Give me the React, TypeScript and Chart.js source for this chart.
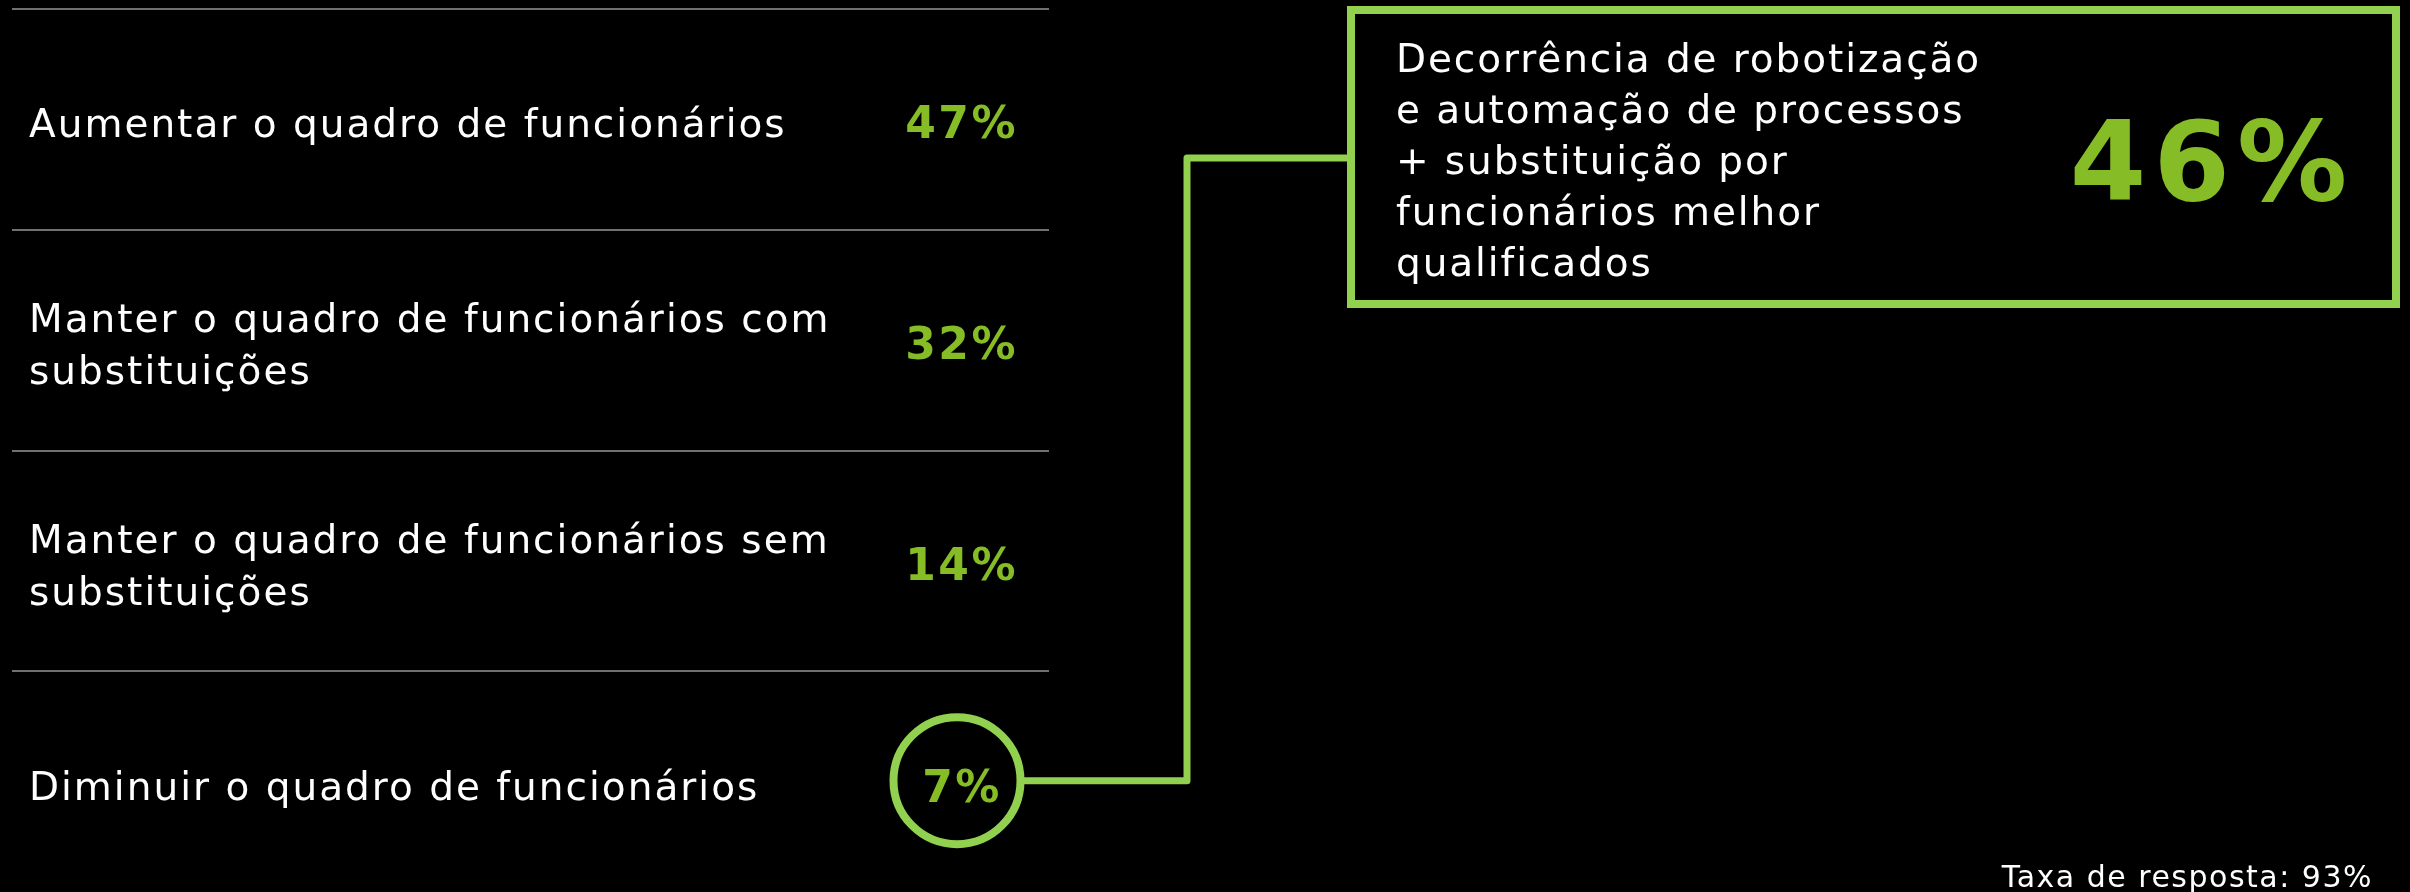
import React, { useEffect, useRef } from "react";
import { Chart, registerables } from "chart.js";

Chart.register(...registerables);

const categories: string[][] = [
  ["Aumentar o quadro de funcionários"],
  ["Manter o quadro de funcionários com", "substituições"],
  ["Manter o quadro de funcionários sem", "substituições"],
  ["Diminuir o quadro de funcionários"],
];
const values: number[] = [47, 32, 14, 7];
const highlightIndex = 3;

const detailLines: string[] = [
  "Decorrência de robotização",
  "e automação de processos",
  "+ substituição por",
  "funcionários melhor",
  "qualificados",
];
const detailValue = 46;
const responseRate = 93;

const W = 2410;
const H = 892;
const FONT = "'DejaVu Sans', Verdana, sans-serif";
const GREEN_TEXT = "#86bc25";
const GREEN_LINE = "#92d050";
const SEP = "#707070";

function setSpacing(ctx: any, px: number) {
  if ("letterSpacing" in ctx) ctx.letterSpacing = `${px}px`;
}

const infoPlugin = {
  id: "infoPlugin",
  beforeDraw(chart: any) {
    const ctx = chart.ctx;
    ctx.save();
    ctx.fillStyle = "#000";
    ctx.fillRect(0, 0, chart.width, chart.height);
    ctx.restore();
  },
  afterDraw(chart: any) {
    const ctx = chart.ctx;
    const yScale = chart.scales.y;
    const area = chart.chartArea;
    const n = chart.data.labels.length;
    const band = (area.bottom - area.top) / n;
    const vals = chart.data.datasets[0].data as number[];
    ctx.save();

    // separators
    ctx.strokeStyle = SEP;
    ctx.lineWidth = 2;
    for (let i = 0; i < n; i++) {
      const y = Math.round(yScale.getPixelForValue(i) - band / 2);
      ctx.beginPath();
      ctx.moveTo(area.left, y);
      ctx.lineTo(area.right, y);
      ctx.stroke();
    }

    // row labels and values
    for (let i = 0; i < n; i++) {
      const cy = yScale.getPixelForValue(i);
      const lines: string[] = chart.data.labels[i];
      ctx.fillStyle = "#fff";
      ctx.font = `39px ${FONT}`;
      setSpacing(ctx, 2);
      ctx.textAlign = "left";
      ctx.textBaseline = "alphabetic";
      lines.forEach((ln, j) => {
        const by = cy + 18 + (j - (lines.length - 1) / 2) * 51.5;
        ctx.fillText(ln, 29, by);
      });
      ctx.fillStyle = GREEN_TEXT;
      ctx.font = `bold 44px ${FONT}`;
      setSpacing(ctx, 2.5);
      if (i === highlightIndex) {
        ctx.textAlign = "center";
        ctx.fillText(`${vals[i]}%`, 962, cy + 20);
      } else {
        ctx.textAlign = "right";
        ctx.fillText(`${vals[i]}%`, 1018, cy + 19);
      }
    }

    // circle + connector
    const hy = yScale.getPixelForValue(highlightIndex) - 1;
    const cx = 957;
    const r = 63.5;
    ctx.strokeStyle = GREEN_LINE;
    ctx.lineWidth = 8;
    ctx.beginPath();
    ctx.arc(cx, hy, r, 0, Math.PI * 2);
    ctx.stroke();

    const boxL = 1351, boxT = 10, boxR = 2396, boxB = 304;
    ctx.lineWidth = 7;
    ctx.lineJoin = "round";
    ctx.beginPath();
    ctx.moveTo(cx + r + 3, hy);
    ctx.lineTo(1187, hy);
    ctx.lineTo(1187, 158);
    ctx.lineTo(boxL, 158);
    ctx.stroke();

    ctx.lineWidth = 8;
    ctx.lineJoin = "miter";
    ctx.strokeRect(boxL, boxT, boxR - boxL, boxB - boxT);

    // box text
    ctx.fillStyle = "#fff";
    ctx.font = `39px ${FONT}`;
    setSpacing(ctx, 1.9);
    ctx.textAlign = "left";
    detailLines.forEach((ln, j) => {
      ctx.fillText(ln, 1396, 72 + j * 51);
    });
    ctx.fillStyle = GREEN_TEXT;
    ctx.font = `bold 110px ${FONT}`;
    setSpacing(ctx, 7);
    ctx.textAlign = "center";
    ctx.fillText(`${detailValue}%`, 2212, 200);

    // footer
    ctx.fillStyle = "#fff";
    ctx.font = `30px ${FONT}`;
    setSpacing(ctx, 1.5);
    ctx.textAlign = "right";
    ctx.fillText(`Taxa de resposta: ${responseRate}%`, 2373, 887);

    ctx.restore();
  },
};

export default function App() {
  const ref = useRef<HTMLCanvasElement | null>(null);
  useEffect(() => {
    if (!ref.current) return;
    const chart = new Chart(ref.current, {
      type: "bar",
      data: {
        labels: categories as any,
        datasets: [
          {
            data: values,
            backgroundColor: "rgba(0,0,0,0)",
            borderWidth: 0,
          },
        ],
      },
      options: {
        indexAxis: "y",
        responsive: false,
        animation: false,
        events: [],
        layout: { padding: { left: 12, right: W - 1049, top: 9, bottom: 0 } },
        plugins: { legend: { display: false }, tooltip: { enabled: false } },
        scales: {
          x: { display: false, min: 0, max: 100 },
          y: { type: "category", display: false, offset: true },
        },
      },
      plugins: [infoPlugin],
    });
    return () => chart.destroy();
  }, []);
  return (
    <div style={{ position: "fixed", left: 0, top: 0, width: W, height: H, background: "#000" }}>
      <canvas ref={ref} width={W} height={H} style={{ display: "block", width: W, height: H }} />
    </div>
  );
}
